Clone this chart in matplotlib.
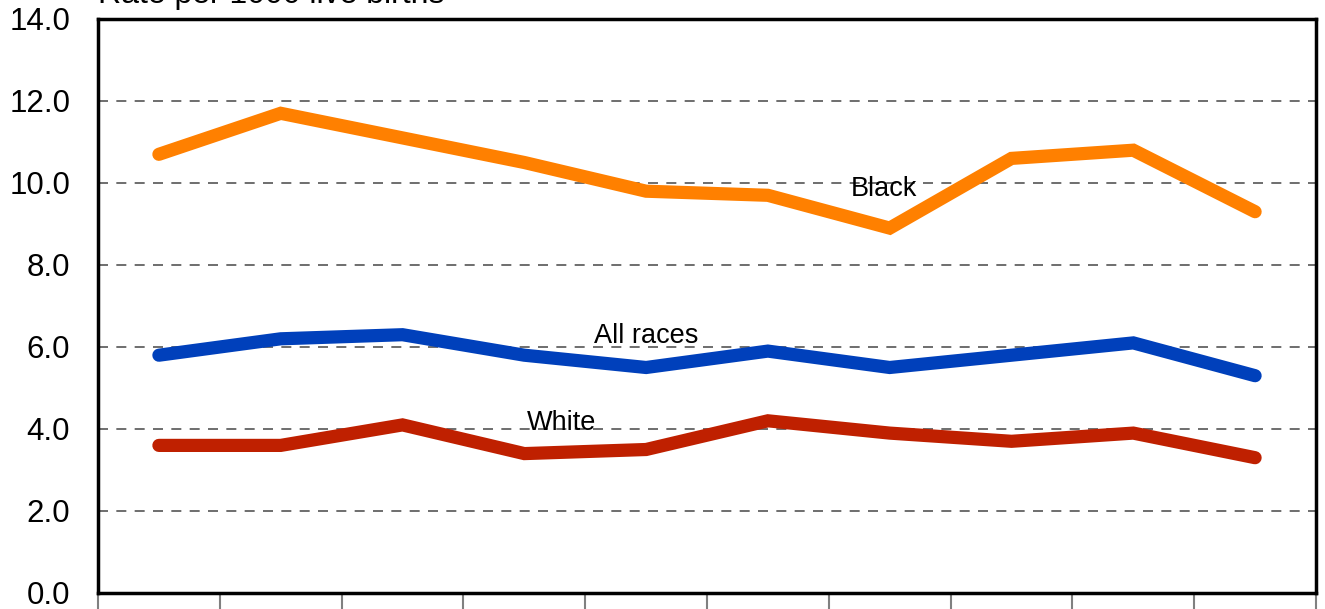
import numpy as np
from matplotlib import pyplot as plt

plt.rcParams['font.family'] = ['Liberation Sans', 'DejaVu Sans']

# ten time points (labels are cut off in the source image)
periods = np.arange(10)
black = [10.7, 11.7, 11.1, 10.5, 9.8, 9.7, 8.9, 10.6, 10.8, 9.3]
all_races = [5.8, 6.2, 6.3, 5.8, 5.5, 5.9, 5.5, 5.8, 6.1, 5.3]
white = [3.6, 3.6, 4.1, 3.4, 3.5, 4.2, 3.9, 3.7, 3.9, 3.3]
y_ticks = [0, 2, 4, 6, 8, 10, 12, 14]

fig = plt.figure(figsize=(13.25, 6.09), dpi=100)
ax = fig.add_axes([98 / 1325, 16 / 609, 1218 / 1325, 574 / 609])

for yv in y_ticks[1:-1]:
    ax.axhline(yv, color='#555555', linewidth=1.2, linestyle=(0, (6, 5)), zorder=1)

kw = dict(linewidth=9.5, solid_capstyle='round', solid_joinstyle='miter', zorder=3)
ax.plot(periods, black, color='#FF8000', **kw)
ax.plot(periods, all_races, color='#0040BB', **kw)
ax.plot(periods, white, color='#BF2000', **kw)

ax.text(5.68, 9.85, 'Black', fontsize=19.5, va='center', ha='left', zorder=4)
ax.text(3.57, 6.27, 'All races', fontsize=19.5, va='center', ha='left', zorder=4)
ax.text(3.02, 4.15, 'White', fontsize=19.5, va='center', ha='left', zorder=4)

ax.set_xlim(-0.5, 9.5)
ax.set_ylim(0, 14)
ax.set_yticks(y_ticks)
ax.set_yticklabels(['{:.1f}'.format(v) for v in y_ticks], fontsize=22.5)
ax.tick_params(axis='y', length=0, pad=20)
ax.set_xticks(np.arange(-0.5, 10, 1))
ax.set_xticklabels([])
ax.tick_params(axis='x', length=14, width=1.5, color='#808080', direction='out')

for s in ax.spines.values():
    s.set_linewidth(2.5)
    s.set_color('black')

fig.text(98 / 1325, 606 / 609, 'Rate per 1000 live births', fontsize=23, va='baseline', ha='left')

plt.savefig('out.png', dpi=100)
